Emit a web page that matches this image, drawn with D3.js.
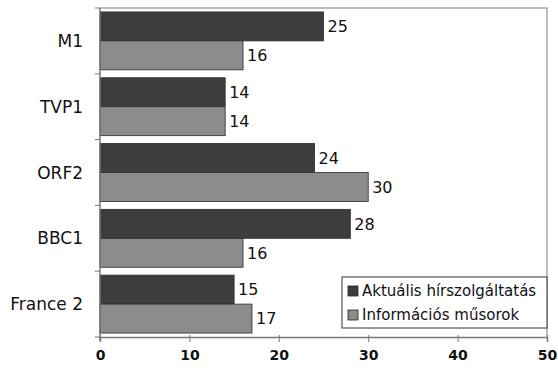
<!DOCTYPE html>
<html>
<head>
<meta charset="utf-8">
<script src="https://cdn.jsdelivr.net/npm/d3@7"></script>
<style>
  body { margin: 0; background: #fff; }
  text { font-family: "DejaVu Sans", Verdana, sans-serif; fill: #111; }
</style>
</head>
<body>
<div id="graph_here"></div>
<script>
// channels, top to bottom
const channels = ["M1", "TVP1", "ORF2", "BBC1", "France 2"];
const seriesNames = ["Aktuális hírszolgáltatás", "Információs műsorok"];
const aktualis = [25, 14, 24, 28, 15];
const informacios = [16, 14, 30, 16, 17];
const xTicks = [0, 10, 20, 30, 40, 50];

function drawbars(){
    const width = 558, height = 371;
    const left = 100, right = 547, top = 8, bottom = 337;
    const colors = ["#3d3d3d", "#8c8c8c"];

    const svg = d3.select('#graph_here').append('svg')
        .attr('width', width).attr('height', height);

    const xScale = d3.scaleLinear().domain([0, 50]).range([left, right]);
    const yScale = d3.scaleBand().domain(channels).range([top, bottom]).paddingInner(0.12).paddingOuter(0.06);
    const ySub = d3.scaleBand().domain([0, 1]).range([0, yScale.bandwidth()]);

    // plot frame (top/right)
    svg.append('path')
        .attr('d', `M${left},${top}H${right}V${bottom}`)
        .attr('fill', 'none').attr('stroke', '#a8a8a8').attr('stroke-width', 1.5);

    const rows = channels.map((c, i) => ({ name: c, vals: [aktualis[i], informacios[i]] }));

    const groups = svg.selectAll('g.row').data(rows).enter().append('g')
        .attr('class', 'row')
        .attr('transform', d => `translate(0,${yScale(d.name)})`);

    groups.selectAll('rect').data(d => d.vals).enter().append('rect')
        .attr('x', xScale(0))
        .attr('y', (d, i) => ySub(i))
        .attr('width', d => xScale(d) - xScale(0))
        .attr('height', ySub.bandwidth())
        .attr('fill', (d, i) => colors[i])
        .attr('stroke', '#2a2a2a').attr('stroke-width', 0.8);

    groups.selectAll('text.val').data(d => d.vals).enter().append('text')
        .attr('class', 'val')
        .attr('x', d => xScale(d) + 4)
        .attr('y', (d, i) => ySub(i) + ySub.bandwidth() / 2)
        .attr('dy', '0.36em')
        .style('font-size', '16px')
        .text(d => d);

    // x axis
    const xAxis = d3.axisBottom(xScale).tickValues(xTicks).tickSize(5).tickPadding(8);
    const gx = svg.append('g').attr('transform', `translate(0,${bottom})`).call(xAxis);
    gx.select('.domain').attr('stroke', '#777').attr('stroke-width', 1.5);
    gx.selectAll('.tick line').attr('stroke', '#777').attr('y1', -2);
    gx.selectAll('.tick text').style('font-size', '14px').style('font-weight', 'bold').attr('fill', '#111');

    // y axis: category boundary ticks
    const bounds = d3.range(channels.length + 1).map(i => top + i * (bottom - top) / channels.length);
    svg.append('line').attr('x1', left).attr('x2', left).attr('y1', top).attr('y2', bottom + 4)
        .attr('stroke', '#777').attr('stroke-width', 1.5);
    svg.selectAll('line.ytick').data(bounds).enter().append('line')
        .attr('class', 'ytick')
        .attr('x1', left - 5).attr('x2', left)
        .attr('y1', d => d).attr('y2', d => d)
        .attr('stroke', '#777');

    svg.selectAll('text.cat').data(channels).enter().append('text')
        .attr('class', 'cat')
        .attr('x', 83)
        .attr('y', d => yScale(d) + yScale.bandwidth() / 2)
        .attr('dy', '0.36em')
        .attr('text-anchor', 'end')
        .style('font-size', '17px')
        .text(d => d);

    // legend
    const legend = svg.append('g').attr('transform', 'translate(342,277)');
    legend.append('rect').attr('width', 205).attr('height', 51)
        .attr('fill', '#fff').attr('stroke', '#333').attr('stroke-width', 1);
    const items = legend.selectAll('g.item').data(seriesNames).enter().append('g')
        .attr('class', 'item')
        .attr('transform', (d, i) => `translate(6,${14 + i * 24})`);
    items.append('rect').attr('x', 0).attr('y', -5).attr('width', 10).attr('height', 10)
        .attr('fill', (d, i) => colors[i]).attr('stroke', '#222').attr('stroke-width', 0.8);
    items.append('text').attr('x', 14).attr('dy', '0.36em')
        .style('font-size', '15px').text(d => d);
}

window.addEventListener('load', drawbars);
</script>
</body>
</html>
